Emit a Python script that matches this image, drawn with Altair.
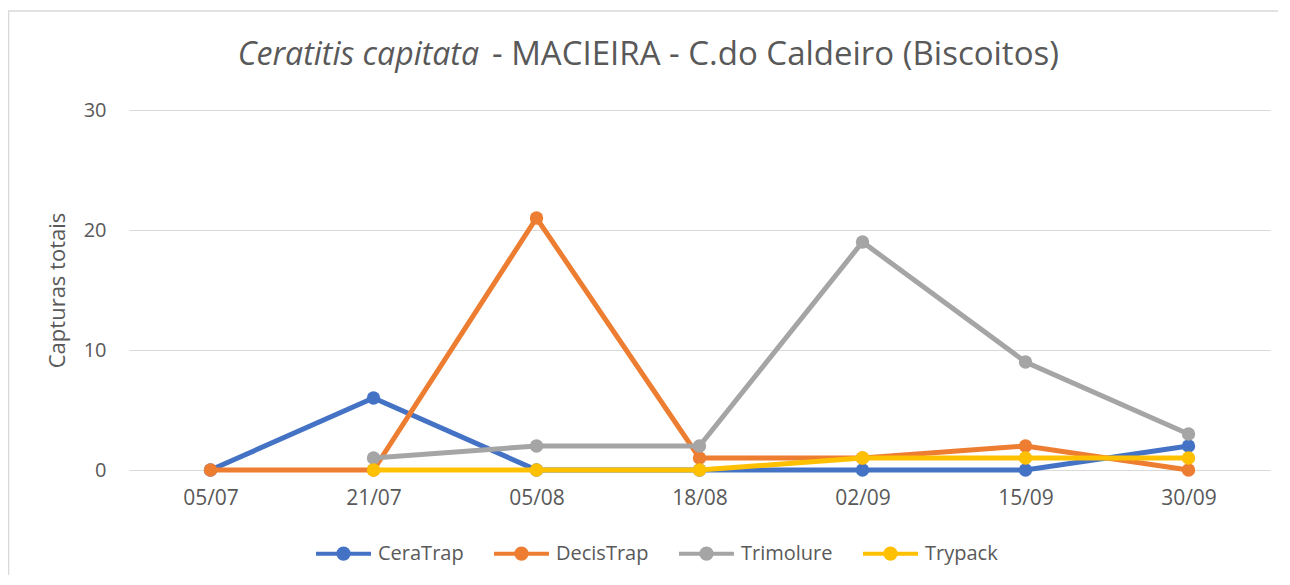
import altair as alt
import pandas as pd

dates = ["05/07", "21/07", "05/08", "18/08", "02/09", "15/09", "30/09"]
series_names = ["CeraTrap", "DecisTrap", "Trimolure", "Trypack"]
ceratrap = [0, 6, 0, 0, 0, 0, 2]
decistrap = [0, 0, 21, 1, 1, 2, 0]
trimolure = [None, 1, 2, 2, 19, 9, 3]
trypack = [None, 0, 0, 0, 1, 1, 1]
colors = ["#4472C4", "#ED7D31", "#A5A5A5", "#FFC000"]
y_ticks = [0, 10, 20, 30]

rows = []
for name, vals in zip(series_names, [ceratrap, decistrap, trimolure, trypack]):
    for d, v in zip(dates, vals):
        if v is not None:
            rows.append({"Data": d, "Serie": name, "Capturas": v})
df = pd.DataFrame(rows)

W, H = 1141, 360
FONT = "Open Sans"
GREY = "#595959"

legend_path = ("M-1.6,0 L1.6,0 M0.3,0 A0.3,0.3 0 1 1 -0.3,0 "
               "A0.3,0.3 0 1 1 0.3,0 Z")

color = alt.Color("Serie:N",
                  scale=alt.Scale(domain=series_names, range=colors),
                  legend=alt.Legend(title=None, orient="none", direction="horizontal",
                                    legendX=195, legendY=424,
                                    symbolType=legend_path, symbolSize=1180,
                                    symbolStrokeWidth=4, labelFont=FONT,
                                    labelFontSize=20, labelColor=GREY,
                                    columnPadding=22, labelOffset=15))

x = alt.X("Data:N", sort=dates,
          scale=alt.Scale(type="point", padding=0.5),
          axis=alt.Axis(title=None, labelFont=FONT, labelFontSize=21, labelColor=GREY,
                        labelAngle=0, ticks=False, domain=False, grid=False,
                        labelPadding=17))
y = alt.Y("Capturas:Q", scale=alt.Scale(domain=[0, 30], nice=False),
          axis=alt.Axis(title="Capturas totais", values=y_ticks, titleFont=FONT,
                        titleFontSize=22, titleFontWeight="normal", titleColor=GREY,
                        titlePadding=14, labelFont=FONT, labelFontSize=20,
                        labelColor=GREY, ticks=False, domain=False, grid=True,
                        gridColor="#D9D9D9", gridWidth=1.2, labelPadding=23))

layers = []
one = pd.DataFrame({"a": [0]})
top_edge = alt.Chart(one).mark_rule(stroke="#D9D9D9", strokeWidth=1.5).encode(
    x=alt.value(-121), x2=alt.value(W + 30), y=alt.value(-99))
left_edge = alt.Chart(one).mark_rule(stroke="#D9D9D9", strokeWidth=1.5).encode(
    x=alt.value(-120.5), y=alt.value(-99), y2=alt.value(H + 130))
layers += [top_edge, left_edge]

for name in series_names:
    base = alt.Chart(df).transform_filter(alt.datum.Serie == name)
    layers.append(base.mark_line(strokeWidth=5).encode(x=x, y=y, color=color))
    layers.append(base.mark_circle(size=180, opacity=1).encode(x=x, y=y, color=color))

title_it = alt.Chart(pd.DataFrame({"t": ["Ceratitis capitata"]})).mark_text(
    font=FONT, fontSize=32, fontStyle="italic", color=GREY, align="right",
    baseline="middle").encode(x=alt.value(350), y=alt.value(-55), text="t:N")
title_rest = alt.Chart(pd.DataFrame({"t": ["- MACIEIRA - C.do Caldeiro (Biscoitos)"]})).mark_text(
    font=FONT, fontSize=33, color=GREY, align="left",
    baseline="middle").encode(x=alt.value(363), y=alt.value(-55), text="t:N")
layers += [title_it, title_rest]

chart = alt.layer(*layers).properties(
    width=W, height=H,
    autosize=alt.AutoSizeParams(type="none"),
    padding={"left": 121, "top": 102, "right": 8, "bottom": 105},
).configure_view(stroke=None)

chart.save("out.html", embed_options={"renderer": "svg", "actions": False})
